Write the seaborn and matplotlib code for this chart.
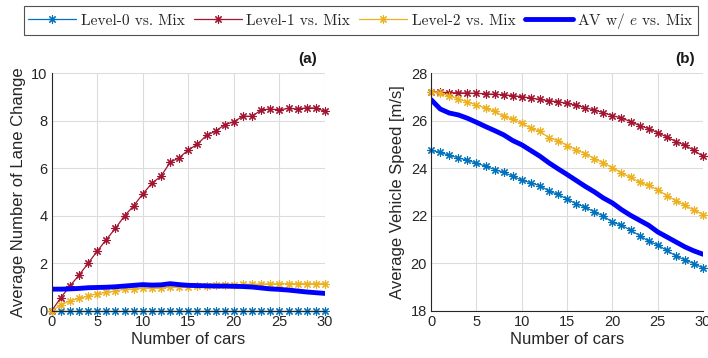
import numpy as np
import pandas as pd
import seaborn as sns
from matplotlib import pyplot as plt

# データ
cars = list(range(31))

lane_level0 = [0.0] * 31
lane_level1 = [0.0, 0.55, 1.04, 1.5, 2.0, 2.51, 3.0, 3.47, 4.0, 4.42, 4.92,
               5.37, 5.67, 6.25, 6.45, 6.77, 7.02, 7.39, 7.57, 7.84, 7.96,
               8.2, 8.19, 8.46, 8.5, 8.46, 8.53, 8.5, 8.55, 8.54, 8.4]
lane_level2 = [0.0, 0.24, 0.42, 0.52, 0.62, 0.72, 0.77, 0.84, 0.9, 0.93, 0.95,
               0.97, 0.97, 0.98, 1.0, 1.02, 1.04, 1.05, 1.07, 1.09, 1.1,
               1.11, 1.12, 1.13, 1.13, 1.14, 1.14, 1.14, 1.14, 1.14, 1.14]
lane_av = [0.91, 0.91, 0.92, 0.94, 0.97, 0.98, 0.99, 1.01, 1.04, 1.07, 1.1,
           1.08, 1.09, 1.14, 1.1, 1.07, 1.06, 1.05, 1.04, 1.04, 1.03,
           1.02, 1.0, 0.96, 0.92, 0.9, 0.87, 0.83, 0.79, 0.76, 0.73]

speed_level0 = [24.76, 24.67, 24.55, 24.44, 24.34, 24.22, 24.09, 23.95, 23.83,
                23.67, 23.5, 23.39, 23.27, 23.04, 22.9, 22.71, 22.5, 22.37,
                22.16, 21.99, 21.73, 21.61, 21.39, 21.17, 20.93, 20.77, 20.54,
                20.31, 20.14, 19.99, 19.79]
speed_level1 = [27.23, 27.2, 27.19, 27.18, 27.17, 27.16, 27.14, 27.12, 27.1,
                27.06, 27.02, 26.96, 26.9, 26.85, 26.8, 26.74, 26.66, 26.55,
                26.46, 26.34, 26.22, 26.12, 25.97, 25.8, 25.67, 25.5, 25.32,
                25.13, 24.97, 24.76, 24.5]
speed_level2 = [27.23, 27.16, 27.06, 26.92, 26.8, 26.67, 26.54, 26.4, 26.19,
                26.07, 25.9, 25.69, 25.56, 25.28, 25.17, 24.96, 24.78, 24.62,
                24.41, 24.23, 24.03, 23.8, 23.62, 23.41, 23.28, 23.1, 22.85,
                22.64, 22.44, 22.24, 22.05]
speed_av = [26.89, 26.5, 26.33, 26.25, 26.11, 25.94, 25.76, 25.59, 25.41,
            25.17, 24.99, 24.75, 24.51, 24.23, 23.98, 23.74, 23.49, 23.24,
            23.01, 22.75, 22.54, 22.26, 22.02, 21.81, 21.6, 21.32, 21.11,
            20.9, 20.69, 20.52, 20.38]

labels = ['Level-0 vs. Mix', 'Level-1 vs. Mix', 'Level-2 vs. Mix',
          r'AV w/ $e$ vs. Mix']
colors = ['#0072BD', '#A2142F', '#EDB120', '#0000FF']

sns.set_style('whitegrid')
plt.rcParams['font.family'] = ['Liberation Sans', 'DejaVu Sans']
plt.rcParams['mathtext.fontset'] = 'cm'

fig = plt.figure(figsize=(7.08, 3.58), dpi=100)
ax1 = fig.add_axes([0.073, 0.132, 0.386, 0.663])
ax2 = fig.add_axes([0.609, 0.132, 0.384, 0.663])

asterisk = (8, 2, 0)
panels = [
    (ax1, [lane_level0, lane_level1, lane_level2, lane_av]),
    (ax2, [speed_level0, speed_level1, speed_level2, speed_av]),
]
for ax, series in panels:
    for i, vals in enumerate(series):
        df = pd.DataFrame({'cars': cars, 'val': vals})
        if i < 3:
            sns.lineplot(data=df, x='cars', y='val', ax=ax, color=colors[i],
                         lw=0.9, marker=asterisk, markersize=6,
                         markeredgewidth=0.8, markeredgecolor=colors[i],
                         label=labels[i], legend=False, clip_on=False)
        else:
            sns.lineplot(data=df, x='cars', y='val', ax=ax, color=colors[i],
                         lw=3.5, label=labels[i], legend=False)

# 軸の設定
ax1.set_xlim(0, 30)
ax1.set_ylim(0, 10)
ax1.set_yticks([0, 2, 4, 6, 8, 10])
ax1.set_ylabel('Average Number of Lane Change', fontsize=12, color='#262626')
ax2.set_xlim(0, 30)
ax2.set_ylim(18, 28)
ax2.set_yticks([18, 20, 22, 24, 26, 28])
ax2.set_ylabel('Average Vehicle Speed [m/s]', fontsize=12, color='#262626')

for ax, tag in [(ax1, '(a)'), (ax2, '(b)')]:
    ax.set_xticks([0, 5, 10, 15, 20, 25, 30])
    ax.set_xlabel('Number of cars', fontsize=12, color='#262626', labelpad=2)
    ax.grid(True, color='#dcdcdc', lw=0.8)
    for s in ['top', 'right']:
        ax.spines[s].set_visible(False)
    for s in ['left', 'bottom']:
        ax.spines[s].set_color('#262626')
        ax.spines[s].set_linewidth(0.8)
    ax.tick_params(axis='both', labelsize=10.5, colors='#262626',
                   direction='in', length=3, width=0.8, pad=3)
    ax.text(0.935, 1.03, tag, transform=ax.transAxes, ha='center', va='bottom',
            fontsize=11, fontweight='bold', color='#1a1a1a')

# 凡例
handles, leg_labels = ax1.get_legend_handles_labels()
leg = fig.legend(handles, leg_labels, loc='upper center', ncol=4,
                 bbox_to_anchor=(0.51, 0.992),
                 prop={'family': 'cmr10', 'size': 11.1},
                 handlelength=3.1, handletextpad=0.3, columnspacing=0.6,
                 frameon=True, fancybox=False, edgecolor='#262626',
                 borderpad=0.3, borderaxespad=0.2)
leg.get_frame().set_linewidth(0.8)

fig.savefig('out.png', dpi=100)
